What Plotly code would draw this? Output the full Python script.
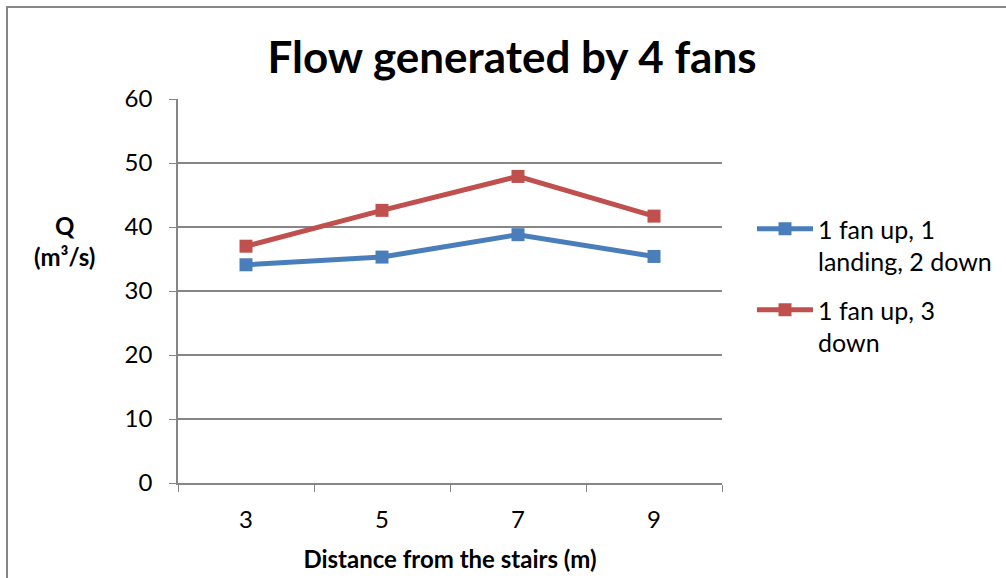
import plotly.graph_objects as go

categories = ["3", "5", "7", "9"]
series1_name = "1 fan up, 1<br>landing, 2 down"
series1 = [34.1, 35.3, 38.8, 35.4]
series2_name = "1 fan up, 3<br>down"
series2 = [37.0, 42.6, 47.9, 41.7]
y_ticks = [0, 10, 20, 30, 40, 50, 60]

FONT = "Lato"
GRID = "#868686"
FS = 24

fig = go.Figure()
fig.add_trace(go.Scatter(
    x=categories, y=series1, name=series1_name, mode="lines+markers",
    legendgroup="g1",
    line=dict(color="#4A7EBB", width=5),
    marker=dict(symbol="square", size=13, color="#4A7EBB"),
))
fig.add_trace(go.Scatter(
    x=categories, y=series2, name=series2_name, mode="lines+markers",
    legendgroup="g2",
    line=dict(color="#C0504D", width=5),
    marker=dict(symbol="square", size=13, color="#C0504D"),
))

L, R, T, B = 178, 722, 99, 483
W, H = 1006, 578
pw, ph = R - L, B - T

def px(x):
    return (x - L) / pw

def py(y):
    return (B - y) / ph

fig.update_layout(
    width=W, height=H,
    margin=dict(l=L, r=W - R, t=T, b=H - B, autoexpand=False),
    paper_bgcolor="white", plot_bgcolor="white",
    font=dict(family=FONT, size=FS, color="#000000"),
    title=dict(text="<b>Flow generated by 4 fans</b>", x=(264 + 760) / 2 / W, xanchor="center",
               y=1 - 58 / H, yanchor="middle", font=dict(size=44, family=FONT)),
    showlegend=True,
    legend=dict(x=px(752), xanchor="left", y=py(206), yanchor="top",
                font=dict(size=25, family=FONT), tracegroupgap=13, valign="top",
                traceorder="grouped", itemwidth=56, bgcolor="rgba(0,0,0,0)"),
    xaxis=dict(type="category", showgrid=False, showline=True, linecolor=GRID,
               linewidth=1.5, ticks="outside", tickson="boundaries", ticklen=7,
               tickcolor=GRID, tickfont=dict(size=FS), range=[-0.5, 3.5],
               ticklabelstandoff=14, automargin=False,
               title=dict(text="<b>Distance from the stairs (m)</b>",
                          font=dict(size=FS), standoff=20)),
    yaxis=dict(range=[0, 60], tickvals=y_ticks, showgrid=True, gridcolor=GRID,
               gridwidth=1.5, showline=True, linecolor=GRID, linewidth=1.5,
               ticks="outside", ticklen=7, tickcolor=GRID, tickfont=dict(size=FS),
               ticklabelstandoff=12, zeroline=False, automargin=False),
    shapes=[dict(type="rect", xref="paper", yref="paper",
                 x0=px(7), x1=px(1030), y0=py(620), y1=py(7),
                 line=dict(color=GRID, width=2), fillcolor="rgba(0,0,0,0)",
                 layer="below")],
    annotations=[dict(text="<b>Q<br>(m³/s)</b>", xref="paper", yref="paper",
                      x=px(64), y=py(241), xanchor="center", yanchor="middle",
                      showarrow=False, font=dict(size=FS), align="center")],
)

fig.write_html("out.html", config={"displayModeBar": False},
               post_script="document.body.style.margin='0';document.body.style.overflow='hidden';")
